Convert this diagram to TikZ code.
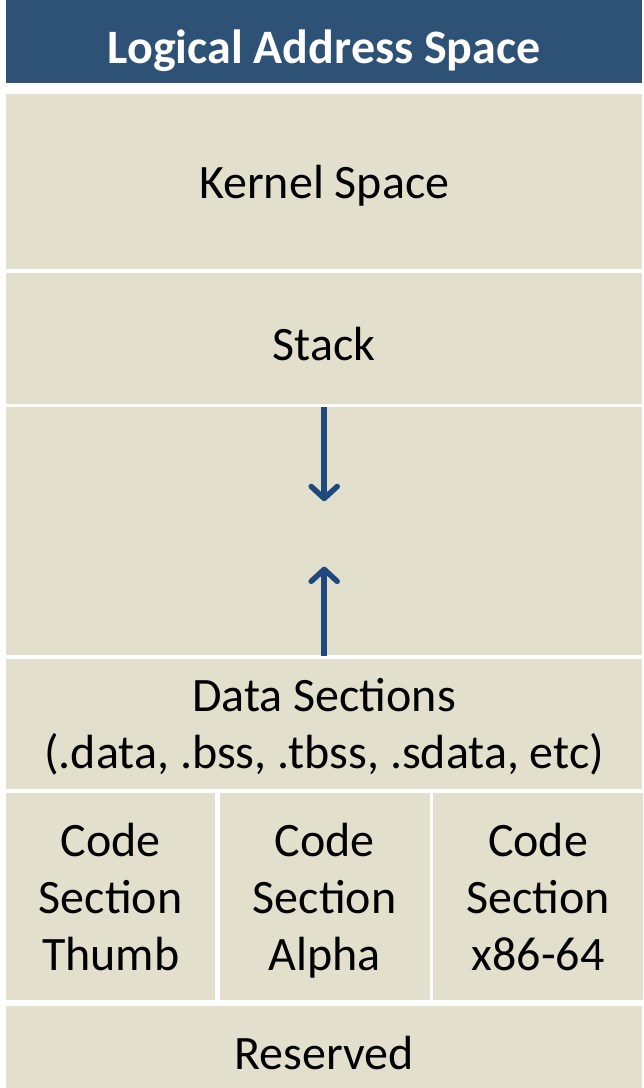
\documentclass[tikz,border=0pt]{standalone}
\usepackage{fontspec}
\setmainfont{Carlito}
\usetikzlibrary{positioning,arrows.meta}
\definecolor{HeadBlue}{RGB}{46,82,118}
\definecolor{ArrowBlue}{RGB}{31,73,125}
\definecolor{SectBeige}{RGB}{226,223,205}

\begin{document}
\begin{tikzpicture}[
x=1pt,y=-1pt,
node distance=4pt,
region/.style={rectangle,fill=SectBeige,inner sep=0pt,minimum width=636pt,
align=center,text depth=0pt,font=\fontsize{48}{57}\selectfont},
codebox/.style={region,minimum width=210pt,minimum height=207pt},
growarrow/.style={-{Straight Barb[length=12pt,width=26pt,round]},line width=5.5pt,draw=ArrowBlue}
]
\useasboundingbox (0,0) rectangle (644,1088);
\node[region,fill=HeadBlue,text=white,font=\fontsize{48}{57}\selectfont\bfseries,
minimum height=83pt,text height=43pt,anchor=north west] (title) at (6,0) {Logical Address Space};
\node[region,minimum height=175pt,text height=35pt,below=10pt of title] (kernel) {Kernel Space};
\node[region,minimum height=131pt,text height=43pt,below=of kernel] (stack) {Stack};
\node[region,minimum height=248pt,below=3pt of stack] (free) {};
\node[region,minimum height=130pt,below=3pt of free] (data) {Data Sections\\(.data, .bss, .tbss, .sdata, etc)};
\node[codebox,minimum width=209pt,below=of data.south west,anchor=north west] (thumb) {Code\\Section\\Thumb};
\node[codebox,right=of thumb] (alpha) {Code\\Section\\Alpha};
\node[codebox,right=3pt of alpha] (amd) {Code\\Section\\x86-64};
\node[region,minimum height=94pt,below=5pt of data.south|-alpha.south] (reserved) {Reserved};
\coordinate[below=94pt of free.north] (stacktip);
\coordinate[above=89pt of free.south] (heaptip);
\draw[growarrow] (free.north) -- (stacktip);
\draw[growarrow] (free.south) -- (heaptip);
\end{tikzpicture}
\end{document}
